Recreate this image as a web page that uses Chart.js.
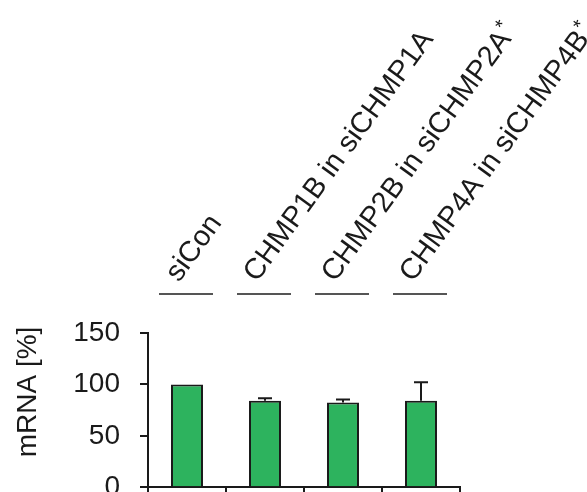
<!DOCTYPE html>
<html><head><meta charset="utf-8">
<script src="https://cdn.jsdelivr.net/npm/chart.js@4"></script>
<style>
html,body{margin:0;padding:0;background:#fff;overflow:hidden;width:587px;height:492px}
#wrap{position:absolute;left:0;top:0;width:587px;height:524px}
</style>
</head><body><div id="wrap"><canvas id="c" width="587" height="524"></canvas></div>
<script>
const categories = ['siCon', 'CHMP1B in siCHMP1A', 'CHMP2B in siCHMP2A', 'CHMP4A in siCHMP4B'];
const labelMarks = ['', '', '*', '*'];
const mrnaValues = [100, 84, 82.5, 84];
const mrnaErrors = [0, 2.6, 2.9, 18.2];
const yTicks = [0, 50, 100, 150];
const yTitle = 'mRNA [%]';

const FONT = "'Liberation Sans', Arial, sans-serif";
const INK = '#1a1a1a';

const annotate = {
  id: 'annotate',
  afterDatasetsDraw(chart) {
    const ctx = chart.ctx, xs = chart.scales.x, ys = chart.scales.y, area = chart.chartArea;
    ctx.save();
    // error bars
    ctx.strokeStyle = INK; ctx.lineWidth = 2;
    mrnaValues.forEach((v, i) => {
      const e = mrnaErrors[i];
      if (!e) return;
      const x = xs.getPixelForValue(i);
      const y0 = ys.getPixelForValue(v);
      const y1 = ys.getPixelForValue(v + e);
      ctx.beginPath();
      ctx.moveTo(x, y0); ctx.lineTo(x, y1);
      ctx.moveTo(x - 7, y1); ctx.lineTo(x + 7, y1);
      ctx.stroke();
    });
    // category labels with underlines
    categories.forEach((lab, i) => {
      const x = xs.getPixelForValue(i);
      const ly = area.top - 39;
      ctx.strokeStyle = '#555'; ctx.lineWidth = 2;
      ctx.beginPath(); ctx.moveTo(x - 28, ly); ctx.lineTo(x + 26, ly); ctx.stroke();
      ctx.save();
      ctx.translate(x - 8, area.top - 50);
      ctx.rotate(-54 * Math.PI / 180);
      ctx.fillStyle = INK;
      ctx.textAlign = 'left'; ctx.textBaseline = 'alphabetic';
      ctx.font = '29px ' + FONT;
      ctx.fillText(lab, 0, 0);
      if (labelMarks[i]) {
        const w = ctx.measureText(lab).width;
        ctx.font = '20px ' + FONT;
        ctx.fillText(labelMarks[i], w + 1, -10);
      }
      ctx.restore();
    });
    // y title
    ctx.save();
    ctx.translate(28, 392);
    ctx.rotate(-Math.PI / 2);
    ctx.fillStyle = INK;
    ctx.font = '28px ' + FONT;
    ctx.textAlign = 'center'; ctx.textBaseline = 'middle';
    ctx.fillText(yTitle, 0, 0);
    ctx.restore();
    ctx.restore();
  }
};

new Chart(document.getElementById('c'), {
  type: 'bar',
  data: {
    labels: categories,
    datasets: [{
      data: mrnaValues,
      backgroundColor: '#2DB35E',
      borderColor: INK,
      borderWidth: 2,
      barPercentage: 0.41,
      categoryPercentage: 1
    }]
  },
  options: {
    responsive: false,
    animation: false,
    layout: { padding: { top: 333, right: 127, bottom: 5, left: 0 } },
    plugins: { legend: { display: false }, tooltip: { enabled: false } },
    scales: {
      x: {
        offset: true,
        afterFit: s => { s.height = 8; },
        grid: { offset: true, drawOnChartArea: false, tickLength: 8, color: INK, lineWidth: 2 },
        border: { color: INK, width: 2 },
        ticks: { display: false }
      },
      y: {
        min: 0, max: 150,
        afterBuildTicks: s => { s.ticks = yTicks.map(v => ({ value: v })); },
        afterFit: s => { s.width = 148; },
        grid: { drawOnChartArea: false, tickLength: 8, color: INK, lineWidth: 2 },
        border: { color: INK, width: 2 },
        ticks: { font: { family: FONT, size: 28 }, color: INK, padding: 20 }
      }
    }
  },
  plugins: [annotate]
});
</script>
</body></html>
